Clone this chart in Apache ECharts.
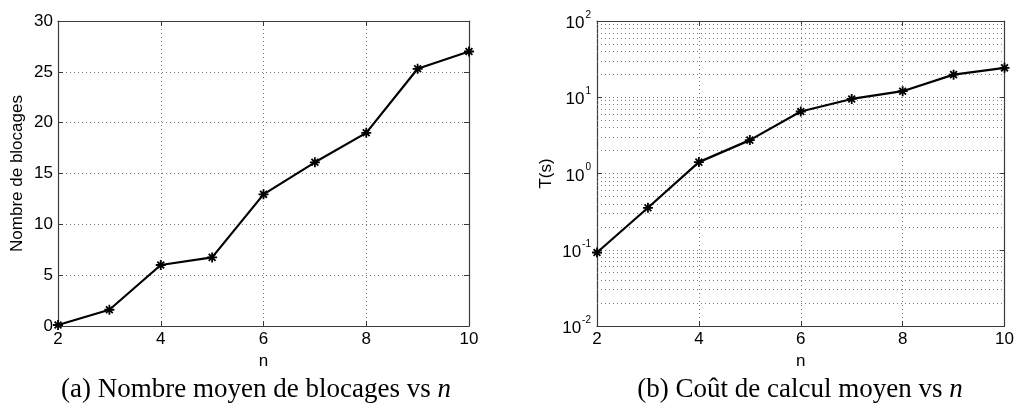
<!DOCTYPE html>
<html><head><meta charset="utf-8">
<script src="https://cdn.jsdelivr.net/npm/echarts@6/dist/echarts.min.js"></script>
<style>html,body{margin:0;padding:0;background:#fff}#c{width:1017px;height:417px}</style>
</head><body><div id="c"></div>
<script>
// ---- data ----
const nValues = [2, 3, 4, 5, 6, 7, 8, 9, 10];
const blocages = [0.1, 1.6, 6.0, 6.75, 12.95, 16.1, 19.0, 25.3, 27.0];
const costSeconds = [0.092, 0.355, 1.41, 2.74, 6.5, 9.5, 12.0, 19.8, 24.3];
const logDecades = [-2, -1, 0, 1];
const logMultipliers = [2, 3, 4, 5, 6, 7, 8, 9];
const captionA = ['(a) Nombre moyen de blocages vs ', 'n'];
const captionB = ['(b) Coût de calcul moyen vs ', 'n'];
const yNameA = 'Nombre de blocages';
const yNameB = 'T(s)';
const xName = 'n';

const minorLogLines = [];
logDecades.forEach(d => logMultipliers.forEach(m => minorLogLines.push(m * Math.pow(10, d))));

const sans = 'Liberation Sans';
const serif = 'Liberation Serif';
const frame = '#3a3a3a';
const gridDot = { color: '#7a7a7a', width: 1, type: [1, 3] };
const tickStyle = { show: true, inside: true, length: 5, lineStyle: { color: frame, width: 1 } };
const asterisk = 'path://M5,0L5,10M0,5L10,5M1.6,1.6L8.4,8.4M1.6,8.4L8.4,1.6';

function pairs(ys) { return nValues.map((n, i) => [n, ys[i]]); }

function xAx(grid, pos) {
  const main = pos === 'bottom';
  return {
    type: 'value', gridIndex: grid, position: pos, min: 2, max: 10, interval: 2,
    name: main ? xName : '', nameLocation: 'middle', nameGap: 24,
    nameTextStyle: { fontFamily: sans, fontSize: 17, color: '#000' },
    axisLine: { show: true, onZero: false, lineStyle: { color: frame, width: 1.2 } },
    axisTick: tickStyle,
    axisLabel: { show: main, margin: 5, fontFamily: sans, fontSize: 17, color: '#000' },
    splitLine: { show: main, lineStyle: gridDot }
  };
}

const supRich = {
  b: { fontFamily: sans, fontSize: 17, color: '#000', lineHeight: 22, verticalAlign: 'bottom' },
  s: { fontFamily: sans, fontSize: 10, color: '#000', lineHeight: 22, verticalAlign: 'top', padding: [0, 0, 0, 1] }
};

const lineSeries = (xi, yi, ys) => ({
  type: 'line', xAxisIndex: xi, yAxisIndex: yi, data: pairs(ys),
  symbol: asterisk, symbolSize: 10, z: 5,
  lineStyle: { color: '#000', width: 2.2 },
  itemStyle: { color: '#000', borderColor: '#000', borderWidth: 1.8 }
});

const seriesB = lineSeries(1, 1, costSeconds);
seriesB.markLine = {
  silent: true, symbol: ['none', 'none'], label: { show: false }, z: 1,
  lineStyle: gridDot,
  data: minorLogLines.map(v => ({ yAxis: v }))
};

const option = {
  animation: false,
  backgroundColor: '#fff',
  grid: [
    { left: 58, right: 548, top: 21, bottom: 91 },
    { left: 597, right: 10, top: 21, bottom: 91 }
  ],
  xAxis: [xAx(0, 'bottom'), xAx(1, 'bottom'), xAx(0, 'top'), xAx(1, 'top')],
  yAxis: [
    {
      type: 'value', gridIndex: 0, min: 0, max: 30, interval: 5,
      name: yNameA, nameLocation: 'middle', nameGap: 32,
      nameTextStyle: { fontFamily: sans, fontSize: 17, color: '#000' },
      axisLine: { show: true, lineStyle: { color: frame, width: 1.2 } },
      axisTick: tickStyle,
      axisLabel: { margin: 5, fontFamily: sans, fontSize: 17, color: '#000' },
      splitLine: { show: true, lineStyle: gridDot }
    },
    {
      type: 'log', logBase: 10, gridIndex: 1, min: 0.01, max: 100, interval: 1,
      name: yNameB, nameLocation: 'middle', nameGap: 42,
      nameTextStyle: { fontFamily: sans, fontSize: 17, color: '#000' },
      axisLine: { show: true, lineStyle: { color: frame, width: 1.2 } },
      axisTick: tickStyle,
      axisLabel: {
        margin: 6,
        formatter: v => '{b|10}{s|' + Math.round(Math.log10(v)) + '}',
        rich: supRich
      },
      splitLine: { show: true, lineStyle: gridDot }
    },
    {
      type: 'value', gridIndex: 0, position: 'right', min: 0, max: 30, interval: 5,
      axisLine: { show: true, lineStyle: { color: frame, width: 1.2 } },
      axisTick: tickStyle, axisLabel: { show: false }, splitLine: { show: false }
    },
    {
      type: 'log', logBase: 10, gridIndex: 1, position: 'right', min: 0.01, max: 100, interval: 1,
      axisLine: { show: true, lineStyle: { color: frame, width: 1.2 } },
      axisTick: tickStyle, axisLabel: { show: false }, splitLine: { show: false }
    }
  ],
  series: [lineSeries(0, 0, blocages), seriesB],
  graphic: [
    {
      type: 'text', x: 256, y: 390,
      style: {
        text: '{p|' + captionA[0] + '}{i|' + captionA[1] + '}',
        align: 'center', verticalAlign: 'middle',
        rich: {
          p: { fontFamily: serif, fontSize: 27, fill: '#000' },
          i: { fontFamily: serif, fontSize: 27, fontStyle: 'italic', fill: '#000' }
        }
      }
    },
    {
      type: 'text', x: 800, y: 390,
      style: {
        text: '{p|' + captionB[0] + '}{i|' + captionB[1] + '}',
        align: 'center', verticalAlign: 'middle',
        rich: {
          p: { fontFamily: serif, fontSize: 27, fill: '#000' },
          i: { fontFamily: serif, fontSize: 27, fontStyle: 'italic', fill: '#000' }
        }
      }
    }
  ]
};
echarts.init(document.getElementById('c'), null, { renderer: 'canvas' }).setOption(option);
</script></body></html>
